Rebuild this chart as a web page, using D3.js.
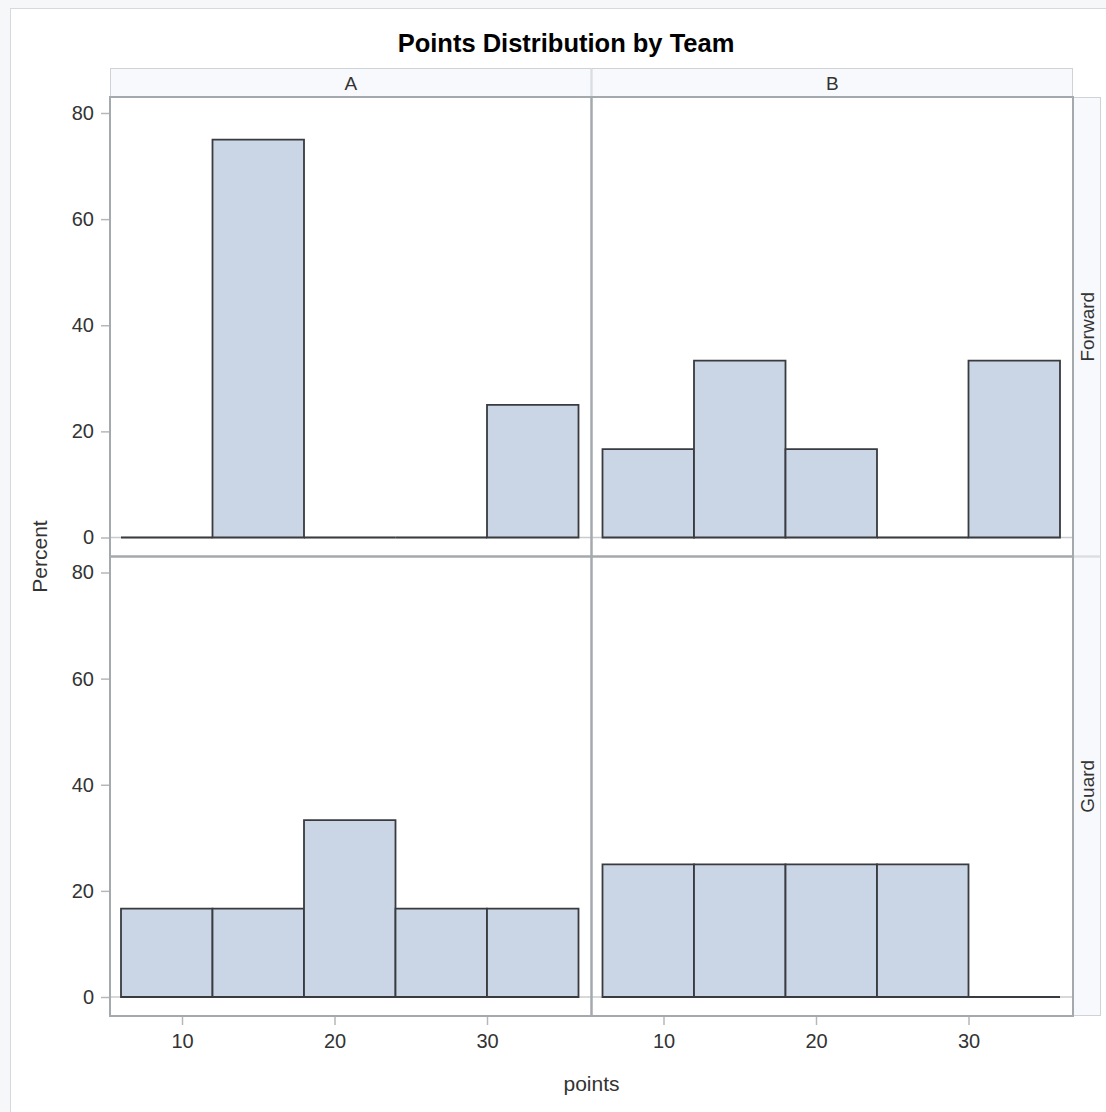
<!DOCTYPE html>
<html>
<head>
<meta charset="utf-8">
<script src="https://cdn.jsdelivr.net/npm/d3@7"></script>
<style>
  html, body { margin: 0; padding: 0; background: #f6f7f9; }
  svg { display: block; font-family: "Liberation Sans", Arial, sans-serif; }
</style>
</head>
<body>
<div id="chart"></div>
<script>
// data
const teams = ["A", "B"];
const positions = ["Forward", "Guard"];
const binEdges = [6, 12, 18, 24, 30, 36];
const pctAForward = [0, 75, 0, 0, 25];
const pctBForward = [16.67, 33.33, 16.67, 0, 33.33];
const pctAGuard = [16.67, 16.67, 33.33, 16.67, 16.67];
const pctBGuard = [25, 25, 25, 25, 0];
const yTicks = [0, 20, 40, 60, 80];
const xTicks = [10, 20, 30];

const cells = [
  { team: "A", pos: "Forward", values: pctAForward },
  { team: "B", pos: "Forward", values: pctBForward },
  { team: "A", pos: "Guard", values: pctAGuard },
  { team: "B", pos: "Guard", values: pctBGuard },
];

const width = 1106;
const height = 1112;

// panel grid
const gridLeft = 110, gridRight = 1073;
const gridTop = 97, gridBottom = 1016;
const colW = (gridRight - gridLeft) / teams.length;
const rowH = (gridBottom - gridTop) / positions.length;

const fill = "#cad5e5";
const outline = "#383b3f";
const frame = "#a4a9ad";
const tickColor = "#b4b8bb";
const textColor = "#333";

const svg = d3.select("#chart")
  .append("svg")
  .attr("width", width)
  .attr("height", height);

// outer graph box
svg.append("rect")
  .attr("x", 10.5).attr("y", 8.5)
  .attr("width", width + 20).attr("height", height + 20)
  .attr("fill", "#fff")
  .attr("stroke", "#d6d9dd");

svg.append("text")
  .attr("x", 566).attr("y", 52)
  .attr("text-anchor", "middle")
  .attr("font-size", 25.5).attr("font-weight", "bold")
  .attr("fill", "#000")
  .text("Points Distribution by Team");

// column headers
teams.forEach((t, i) => {
  const x0 = gridLeft + i * colW;
  svg.append("rect")
    .attr("x", x0 + 0.5).attr("y", 68.5)
    .attr("width", colW - 1).attr("height", gridTop - 68)
    .attr("fill", "#f8f9fd").attr("stroke", "#cfd3d8");
  svg.append("text")
    .attr("x", x0 + colW / 2).attr("y", 90)
    .attr("text-anchor", "middle")
    .attr("font-size", 19).attr("fill", textColor)
    .text(t);
});

// row headers
positions.forEach((p, j) => {
  const y0 = gridTop + j * rowH;
  svg.append("rect")
    .attr("x", gridRight + 0.5).attr("y", y0 + 0.5)
    .attr("width", 27).attr("height", rowH - 1)
    .attr("fill", "#f8f9fd").attr("stroke", "#cfd3d8");
  svg.append("text")
    .attr("transform", `translate(${gridRight + 21},${y0 + rowH / 2}) rotate(-90)`)
    .attr("text-anchor", "middle")
    .attr("font-size", 19).attr("fill", textColor)
    .text(p);
});

cells.forEach((c) => {
  const i = teams.indexOf(c.team);
  const j = positions.indexOf(c.pos);
  const x0 = gridLeft + i * colW;
  const y0 = gridTop + j * rowH;

  const x = d3.scaleLinear()
    .domain([binEdges[0], binEdges[binEdges.length - 1]])
    .range([x0 + 11, x0 + colW - 13]);
  const y = d3.scaleLinear()
    .domain([0, 80])
    .range([y0 + rowH - 19, y0 + 16]);

  const g = svg.append("g");

  g.append("rect")
    .attr("x", x0).attr("y", y0)
    .attr("width", colW).attr("height", rowH)
    .attr("fill", "#fff");

  // faint zero line
  g.append("line")
    .attr("x1", x0).attr("x2", x0 + colW)
    .attr("y1", y(0)).attr("y2", y(0))
    .attr("stroke", "#c8cbce").attr("stroke-width", 1.5);

  const bins = c.values.map((v, k) => ({ x0: binEdges[k], x1: binEdges[k + 1], v }));

  g.selectAll("path.bar")
    .data(bins)
    .enter().append("path")
    .attr("class", "bar")
    .attr("d", (d) => {
      const p = d3.path();
      p.moveTo(x(d.x0), y(0));
      p.lineTo(x(d.x0), y(d.v));
      p.lineTo(x(d.x1), y(d.v));
      p.lineTo(x(d.x1), y(0));
      p.closePath();
      return p.toString();
    })
    .attr("fill", fill)
    .attr("stroke", outline)
    .attr("stroke-width", 1.8)
    .attr("stroke-linejoin", "miter");

  // left axis only on first column
  if (i === 0) {
    const ax = svg.append("g")
      .attr("transform", `translate(${x0},0)`)
      .call(d3.axisLeft(y).tickValues(yTicks).tickSize(9).tickPadding(7));
    ax.select(".domain").remove();
    ax.selectAll(".tick line").attr("stroke", tickColor).attr("stroke-width", 1.5);
    ax.selectAll(".tick text")
      .attr("font-family", "Liberation Sans, Arial, sans-serif")
      .attr("font-size", 20).attr("fill", textColor);
  }

  // bottom axis only on last row
  if (j === positions.length - 1) {
    const ax = svg.append("g")
      .attr("transform", `translate(0,${y0 + rowH})`)
      .call(d3.axisBottom(x).tickValues(xTicks).tickSize(9).tickPadding(9));
    ax.select(".domain").remove();
    ax.selectAll(".tick line").attr("stroke", tickColor).attr("stroke-width", 1.5);
    ax.selectAll(".tick text")
      .attr("font-family", "Liberation Sans, Arial, sans-serif")
      .attr("font-size", 20).attr("fill", textColor);
  }
});

// panel frames drawn on top
teams.forEach((t, i) => {
  positions.forEach((p, j) => {
    svg.append("rect")
      .attr("x", gridLeft + i * colW)
      .attr("y", gridTop + j * rowH)
      .attr("width", colW).attr("height", rowH)
      .attr("fill", "none")
      .attr("stroke", frame).attr("stroke-width", 2);
  });
});

// axis labels
svg.append("text")
  .attr("transform", `translate(47,${(gridTop + gridBottom) / 2}) rotate(-90)`)
  .attr("text-anchor", "middle")
  .attr("font-size", 21).attr("fill", textColor)
  .text("Percent");

svg.append("text")
  .attr("x", (gridLeft + gridRight) / 2).attr("y", 1091)
  .attr("text-anchor", "middle")
  .attr("font-size", 21).attr("fill", textColor)
  .text("points");
</script>
</body>
</html>
